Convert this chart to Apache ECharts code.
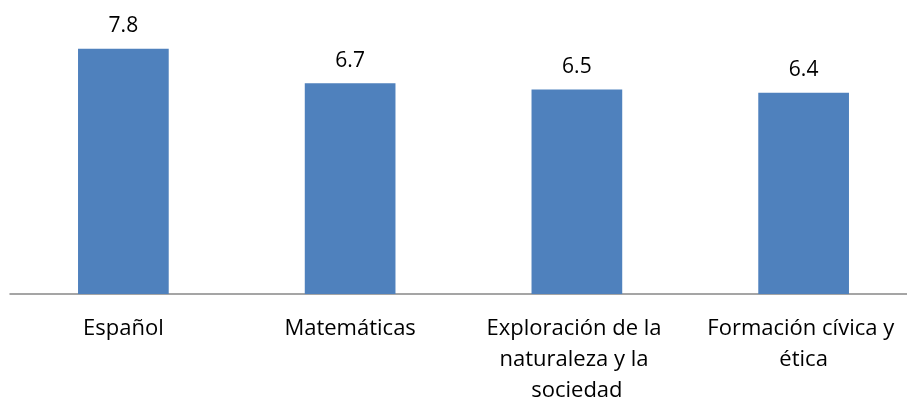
<!DOCTYPE html>
<html>
<head>
<meta charset="utf-8">
<script src="https://cdn.jsdelivr.net/npm/echarts@6/dist/echarts.min.js"></script>
<style>
  html, body { margin: 0; padding: 0; background: #fff; }
  #chart { width: 907px; height: 407px; }
</style>
</head>
<body>
<div id="chart"></div>
<script>
// chart data
const categories = ['Español', 'Matemáticas', 'Exploración de la naturaleza y la sociedad', 'Formación cívica y ética'];
const scores = [7.8, 6.7, 6.5, 6.4];

const chart = echarts.init(document.getElementById('chart'));

const font = '"Open Sans", "Noto Sans", sans-serif';

chart.setOption({
    animation: false,
    grid: { left: 10, top: 11, width: 907, height: 283, outerBoundsMode: 'none' },
    xAxis: {
        type: 'category',
        data: categories,
        axisLine: { lineStyle: { color: '#888888', width: 1.5 } },
        axisTick: { show: false },
        axisLabel: {
            interval: 0,
            color: '#000',
            fontFamily: font,
            fontSize: 22,
            lineHeight: 31,
            margin: 19,
            width: 220,
            overflow: 'break'
        }
    },
    yAxis: {
        type: 'value',
        min: 0,
        max: 9,
        show: false,
        splitLine: { show: false }
    },
    series: [{
        type: 'bar',
        data: scores,
        barWidth: '40%',
        itemStyle: { color: '#4f81bd' },
        label: {
            show: true,
            position: 'top',
            distance: 12,
            color: '#000',
            fontFamily: font,
            fontSize: 21
        }
    }]
});
</script>
</body>
</html>
